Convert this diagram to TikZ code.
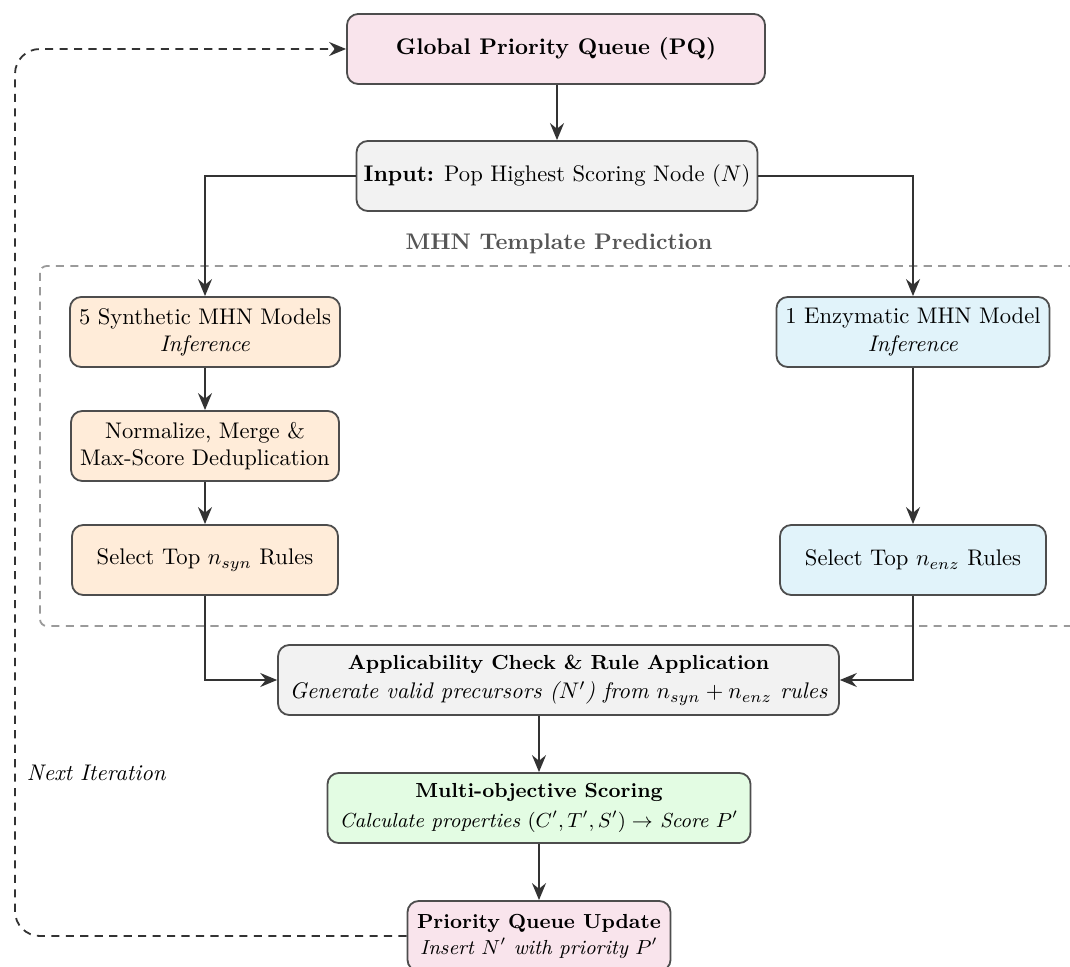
\documentclass[tikz,border=0pt]{standalone}
\usetikzlibrary{arrows.meta,positioning,calc}
\definecolor{pqpink}{HTML}{F9E4EC}
\definecolor{inpgray}{HTML}{F2F2F2}
\definecolor{synorange}{HTML}{FFECD9}
\definecolor{enzblue}{HTML}{E1F3FA}
\definecolor{scgreen}{HTML}{E3FCE3}
\definecolor{bordergray}{HTML}{4D4D4D}
\definecolor{arrowgray}{HTML}{333333}
\definecolor{boxgray}{HTML}{9A9A9A}
\definecolor{labelgray}{HTML}{555555}
\tikzset{
  box/.style={draw=bordergray, line width=0.8pt, rounded corners=5pt,
    align=center, minimum height=31pt, inner sep=2pt},
  flow/.style={draw=arrowgray, line width=0.8pt, -{Stealth[length=7.5pt,width=6.2pt,inset=2.5pt]}},
  fb/.style={draw=arrowgray, line width=0.8pt, dash pattern=on 3.6pt off 2.8pt,
    rounded corners=11pt, -{Stealth[length=7.5pt,width=6.2pt,inset=2.5pt]}},
  groupbox/.style={draw=boxgray, line width=0.8pt, dash pattern=on 3.6pt off 2.8pt, rounded corners=3pt},
}
\begin{document}
\begin{tikzpicture}[x=0.4425pt, y=-0.4425pt]
\useasboundingbox (0,0) rectangle (1070,967);
\clip (0,0) rectangle (1070,967);

% group box
\draw[groupbox] (40,266) rectangle (1110,626);
\node[font=\bfseries, text=labelgray] (grouplabel) at (559,244) {MHN Template Prediction};

% nodes
\node[box, fill=pqpink, minimum width=185pt] (pq) at (556,49) {\textbf{Global Priority Queue (PQ)}};
\node[box, fill=inpgray, minimum width=177.4pt] (inp) at (557,176) {\textbf{Input:} Pop Highest Scoring Node ($N$)};

\node[box, fill=synorange, minimum width=119.5pt] (syn) at (205,332) {5 Synthetic MHN Models\\\textit{Inference}};
\node[box, fill=synorange, minimum width=118.6pt] (norm) at (205,446) {Normalize, Merge \&\\Max-Score Deduplication};
\node[box, fill=synorange, minimum width=117.7pt] (selsyn) at (205,560) {Select Top $n_{syn}$ Rules};

\node[box, fill=enzblue, minimum width=120.8pt] (enz) at (913,332) {1 Enzymatic MHN Model\\\textit{Inference}};
\node[box, fill=enzblue, minimum width=117.7pt] (selenz) at (913,560) {Select Top $n_{enz}$ Rules};

\node[box, fill=inpgray, minimum width=248.2pt] (app) at (558.5,680) {{\small\textbf{Applicability Check \& Rule Application}}\\[1pt]\textit{Generate valid precursors ($N'$) from $n_{syn}+n_{enz}$ rules}};
\node[box, fill=scgreen, minimum width=187.2pt, font=\small] (score) at (539,808) {\textbf{Multi-objective Scoring}\\[2pt]\textit{Calculate properties $(C',T',S')\rightarrow$ Score $P'$}};
\node[box, fill=pqpink, minimum width=116.4pt, font=\small] (pqu) at (539,936) {\textbf{Priority Queue Update}\\[0.5pt]\textit{Insert $N'$ with priority $P'$}};

% connectors
\draw[flow] (pq.south -| inp.north) -- (inp.north);
\draw[flow] (inp.west) -| (syn.north);
\draw[flow] (inp.east) -| (enz.north);
\draw[flow] (syn) -- (norm);
\draw[flow] (norm) -- (selsyn);
\draw[flow] (enz) -- (selenz);
\draw[flow] (selsyn.south) |- (app.west);
\draw[flow] (selenz.south) |- (app.east);
\draw[flow] (app.south -| score.north) -- (score.north);
\draw[flow] (score) -- (pqu);

% feedback
\coordinate (fbl) at (15,500);
\draw[fb] (pqu.west) -| (fbl) |- (pq.west);
\node[font=\itshape, anchor=west] (nextit) at (19,773) {Next Iteration};
\end{tikzpicture}
\end{document}
